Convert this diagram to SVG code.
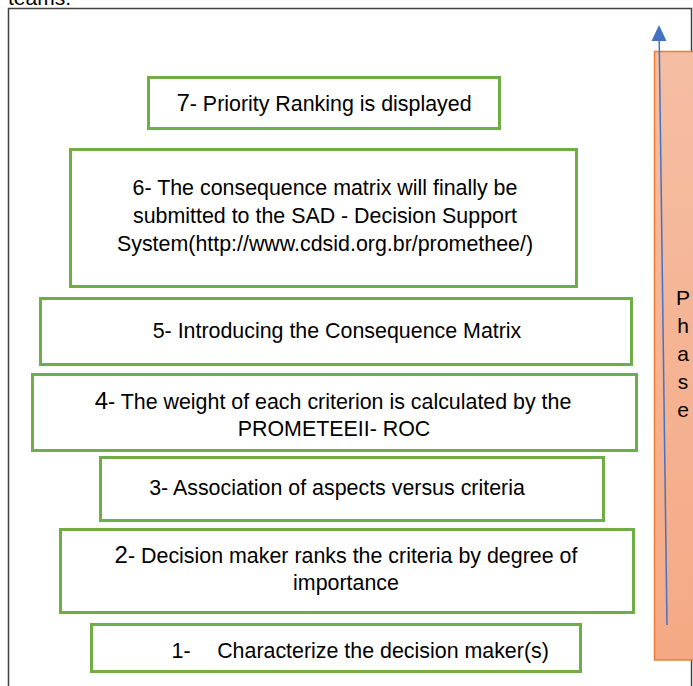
<svg xmlns="http://www.w3.org/2000/svg" width="693" height="686" viewBox="0 0 693 686">
  <style>
    .box { fill: #ffffff; stroke: #70AD47; stroke-width: 3; }
    .t { font-family: "Liberation Sans", Arial, sans-serif; font-size: 21.4px; fill: #000000; text-anchor: middle; }
    .num { font-size: 24px; }
    .ph { font-family: "Liberation Sans", Arial, sans-serif; font-size: 21px; fill: #000000; text-anchor: middle; }
  </style>
  <defs>
    <linearGradient id="og" x1="0" y1="0" x2="0" y2="1">
      <stop offset="0" stop-color="#F5BEA3"/>
      <stop offset="1" stop-color="#F4A984"/>
    </linearGradient>
  </defs>
  <rect x="0" y="0" width="693" height="686" fill="#ffffff"/>
  <text x="8" y="5" font-family="Liberation Sans, Arial, sans-serif" font-size="21" fill="#000">teams.</text>
  <rect x="8.5" y="8.5" width="683" height="700" fill="none" stroke="#404040" stroke-width="1.5"/>

  <g id="phase">
    <rect x="654.5" y="51.5" width="50" height="608.5" fill="url(#og)" stroke="#ED7D31" stroke-width="1.5"/>
    <text class="ph" x="683" y="305">P</text>
    <text class="ph" x="683" y="333">h</text>
    <text class="ph" x="683" y="361">a</text>
    <text class="ph" x="683" y="389">s</text>
    <text class="ph" x="683" y="417">e</text>
  </g>

  <g id="connectors">
    <line x1="667" y1="625" x2="659.2" y2="40" stroke="#4472C4" stroke-width="1.5"/>
    <polygon points="659,25 651.5,41 666.5,41" fill="#4472C4"/>
  </g>

  <g id="step7">
    <rect class="box" x="148.5" y="77.5" width="351" height="51"/>
    <text class="t" x="324" y="111"><tspan class="num">7</tspan>- Priority Ranking is displayed</text>
  </g>
  <g id="step6">
    <rect class="box" x="70.5" y="149.5" width="506" height="137"/>
    <text class="t" x="325" y="195">6- The consequence matrix will finally be</text>
    <text class="t" x="325" y="223">submitted to the SAD - Decision Support</text>
    <text class="t" x="325" y="251">System(http://www.cdsid.org.br/promethee/)</text>
  </g>
  <g id="step5">
    <rect class="box" x="40.5" y="298.5" width="591" height="66"/>
    <text class="t" x="337" y="338">5- Introducing the Consequence Matrix</text>
  </g>
  <g id="step4">
    <rect class="box" x="32.5" y="374.5" width="604" height="76"/>
    <text class="t" x="333" y="409"><tspan class="num">4</tspan>- The weight of each criterion is calculated by the</text>
    <text class="t" x="334" y="436">PROMETEEII- ROC</text>
  </g>
  <g id="step3">
    <rect class="box" x="100.5" y="457.5" width="503" height="63"/>
    <text class="t" x="337" y="495">3- Association of aspects versus criteria</text>
  </g>
  <g id="step2">
    <rect class="box" x="60.5" y="529.5" width="573" height="83"/>
    <text class="t" x="346" y="563"><tspan class="num">2</tspan>- Decision maker ranks the criteria by degree of</text>
    <text class="t" x="346" y="590">importance</text>
  </g>
  <g id="step1">
    <rect class="box" x="91.5" y="624.5" width="489" height="47"/>
    <text class="t" x="181" y="658">1-</text>
    <text class="t" x="383" y="658">Characterize the decision maker(s)</text>
  </g>
</svg>
